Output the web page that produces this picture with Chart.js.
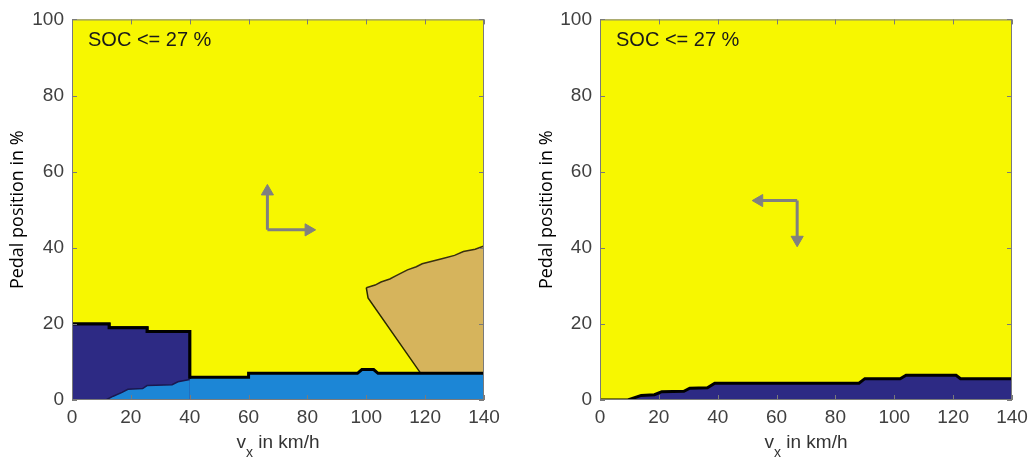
<!DOCTYPE html>
<html>
<head>
<meta charset="utf-8">
<script src="https://cdn.jsdelivr.net/npm/chart.js@4.4.1/dist/chart.umd.min.js"></script>
<style>
  body { margin: 0; background: #fff; }
  #wrap { position: relative; width: 1034px; height: 459px; }
  canvas { position: absolute; top: 0; }
  #left { left: 0; }
  #right { left: 517px; }
</style>
</head>
<body>
<div id="wrap">
  <canvas id="left" width="517" height="459"></canvas>
  <canvas id="right" width="517" height="459"></canvas>
</div>
<script>
// tick labels
const xTicks = [0, 20, 40, 60, 80, 100, 120, 140];
const yTicks = [0, 20, 40, 60, 80, 100];
const socLabel = 'SOC <= 27 %';

// left plot: outer edge of the bottom regions (light blue + navy)
const leftBottomX = [0, 12.6, 12.6, 25.5, 25.5, 40, 40, 60, 60, 97, 98.5, 102.5, 104, 140];
const leftBottomY = [20, 20, 19, 19, 18, 18, 6, 6, 7, 7, 8, 8, 7, 7];
// navy region top
const leftNavyX = [0, 12.6, 12.6, 25.5, 25.5, 40, 40];
const leftNavyY = [20, 20, 19, 19, 18, 18, 5.6];
// light blue wedge under the navy region
const leftWedgeX = [11.5, 14, 17, 19, 24, 25.5, 34, 36, 40];
const leftWedgeY = [0, 1, 2, 2.8, 3, 3.8, 4, 4.8, 5.4];
// tan region, upper stair edge
const leftTanX = [100, 103, 105, 108, 110, 112, 114, 117, 119, 122, 126, 130, 133, 137, 140];
const leftTanY = [29.5, 30.2, 31, 31.8, 32.6, 33.4, 34.2, 35, 35.8, 36.4, 37.2, 38, 39, 39.6, 40.5];
// tan region, lower edge (slanted part, then along the blue region)
const leftTanEdgeX = [100, 100.6, 118.5, 140];
const leftTanEdgeY = [29.5, 26.8, 7, 7];
// arrows (corner, up tip, right tip)
const leftArrowCorner = [66.4, 44.7];
const leftArrowUp = [66.4, 54.8];
const leftArrowRight = [80.4, 44.7];

// right plot: navy region top
const rightNavyX = [0, 9.5, 14, 18.5, 21, 28.5, 30.5, 36.5, 39, 88, 90, 102, 104, 121, 122.5, 140];
const rightNavyY = [0, 0, 1.2, 1.4, 2.2, 2.3, 3.1, 3.2, 4.4, 4.4, 5.6, 5.6, 6.5, 6.5, 5.6, 5.6];
// arrows (corner, left tip, down tip)
const rightArrowCorner = [67, 52.4];
const rightArrowLeft = [54.1, 52.4];
const rightArrowDown = [67, 42.1];

const YELLOW = '#F7F700';
const NAVY = '#2D2A84';
const LBLUE = '#1C86D6';
const TAN = '#D6B45C';
const GREY = '#808080';

function pts(xs, ys) {
    return xs.map((x, i) => ({ x: x, y: ys[i] }));
}

function area(xs, ys, color, border, bw, order, fill) {
    return {
        data: pts(xs, ys),
        fill: fill === undefined ? 'origin' : fill,
        backgroundColor: color,
        borderColor: border,
        borderWidth: bw,
        pointRadius: 0,
        tension: 0,
        order: order
    };
}

function arrow(corner, tip, rot, order) {
    return {
        data: pts([corner[0], tip[0]], [corner[1], tip[1]]),
        fill: false,
        borderColor: GREY,
        borderWidth: 3,
        pointRadius: [0, 7],
        pointStyle: 'triangle',
        pointRotation: rot,
        pointBackgroundColor: GREY,
        pointBorderColor: GREY,
        pointBorderWidth: 1,
        order: order
    };
}

const plotPlugin = {
    id: 'plotDecor',
    beforeDatasetsDraw(chart) {
        const a = chart.chartArea;
        const ctx = chart.ctx;
        ctx.save();
        ctx.fillStyle = YELLOW;
        ctx.fillRect(a.left, a.top, a.right - a.left, a.bottom - a.top);
        ctx.restore();
    },
    afterDraw(chart) {
        const a = chart.chartArea;
        const ctx = chart.ctx;
        const xs = chart.scales.x, ys = chart.scales.y;
        ctx.save();
        ctx.strokeStyle = '#7a7a7a';
        ctx.lineWidth = 1;
        ctx.strokeRect(a.left + 0.5, a.top + 0.5, a.right - a.left - 1, a.bottom - a.top - 1);
        ctx.beginPath();
        xTicks.forEach(v => {
            const px = Math.round(xs.getPixelForValue(v)) + 0.5;
            ctx.moveTo(px, a.top); ctx.lineTo(px, a.top + 5);
            ctx.moveTo(px, a.bottom); ctx.lineTo(px, a.bottom - 5);
        });
        yTicks.forEach(v => {
            const py = Math.round(ys.getPixelForValue(v)) + 0.5;
            ctx.moveTo(a.left, py); ctx.lineTo(a.left + 5, py);
            ctx.moveTo(a.right, py); ctx.lineTo(a.right - 5, py);
        });
        ctx.stroke();

        // SOC label
        ctx.fillStyle = '#1a1a1a';
        ctx.font = '20px "Liberation Sans", Arial, sans-serif';
        ctx.textBaseline = 'alphabetic';
        ctx.textAlign = 'left';
        ctx.fillText(socLabel, a.left + 16, a.top + 27);

        // x axis title with subscript
        const cx = (a.left + a.right) / 2;
        const base = 448;
        ctx.font = '19px "Liberation Sans", Arial, sans-serif';
        const wV = ctx.measureText('v').width;
        const wRest = ctx.measureText(' in km/h').width;
        ctx.font = '14px "Liberation Sans", Arial, sans-serif';
        const wSub = ctx.measureText('x').width;
        let x0 = cx - (wV + wSub + wRest) / 2;
        ctx.fillStyle = '#333';
        ctx.font = '19px "Liberation Sans", Arial, sans-serif';
        ctx.fillText('v', x0, base);
        ctx.font = '14px "Liberation Sans", Arial, sans-serif';
        ctx.fillText('x', x0 + wV, base + 9);
        ctx.font = '19px "Liberation Sans", Arial, sans-serif';
        ctx.fillText(' in km/h', x0 + wV + wSub, base);
        ctx.restore();
    }
};

function makeChart(id, datasets, yWidth, padRight, titlePad) {
    return new Chart(document.getElementById(id), {
        type: 'line',
        data: { datasets: datasets },
        plugins: [plotPlugin],
        options: {
            responsive: false,
            animation: false,
            events: [],
            layout: { padding: { left: 0, right: padRight, top: 15, bottom: 0 } },
            plugins: { legend: { display: false }, tooltip: { enabled: false } },
            scales: {
                x: {
                    type: 'linear',
                    min: 0,
                    max: 140,
                    afterBuildTicks: s => { s.ticks = xTicks.map(v => ({ value: v })); },
                    afterFit: s => { s.height = 59; },
                    grid: { display: false, drawTicks: false },
                    border: { display: false },
                    ticks: {
                        padding: 6,
                        color: '#404040',
                        font: { family: '"Liberation Sans", Arial, sans-serif', size: 19 }
                    }
                },
                y: {
                    type: 'linear',
                    min: 0,
                    max: 100,
                    afterBuildTicks: s => { s.ticks = yTicks.map(v => ({ value: v })); },
                    afterFit: s => { s.width = yWidth; },
                    grid: { display: false, drawTicks: false },
                    border: { display: false },
                    ticks: {
                        padding: 8,
                        color: '#404040',
                        font: { family: '"Liberation Sans", Arial, sans-serif', size: 19 }
                    },
                    title: {
                        display: true,
                        text: 'Pedal position in %',
                        color: '#000',
                        padding: { top: titlePad, bottom: 0 },
                        font: { family: '"Open Sans", sans-serif', size: 18 }
                    }
                }
            }
        }
    });
}

makeChart('left', [
    area(leftTanX, leftTanY, TAN, '#3a3010', 1.5, 10, '+1'),
    area(leftTanEdgeX, leftTanEdgeY, 'rgba(0,0,0,0)', '#2a2a00', 1.5, 9, false),
    area(leftBottomX, leftBottomY, LBLUE, '#000', 3, 8),
    area(leftNavyX, leftNavyY, NAVY, '#000', 3, 7),
    area(leftWedgeX, leftWedgeY, LBLUE, '#1a1850', 1.5, 6),
    arrow(leftArrowCorner, leftArrowUp, 0, 2),
    arrow(leftArrowCorner, leftArrowRight, 90, 1)
], 72, 33, 7);

makeChart('right', [
    area(rightNavyX, rightNavyY, NAVY, '#000', 3, 5),
    arrow(rightArrowCorner, rightArrowLeft, 270, 2),
    arrow(rightArrowCorner, rightArrowDown, 180, 1)
], 83, 22, 19);
</script>
</body>
</html>
